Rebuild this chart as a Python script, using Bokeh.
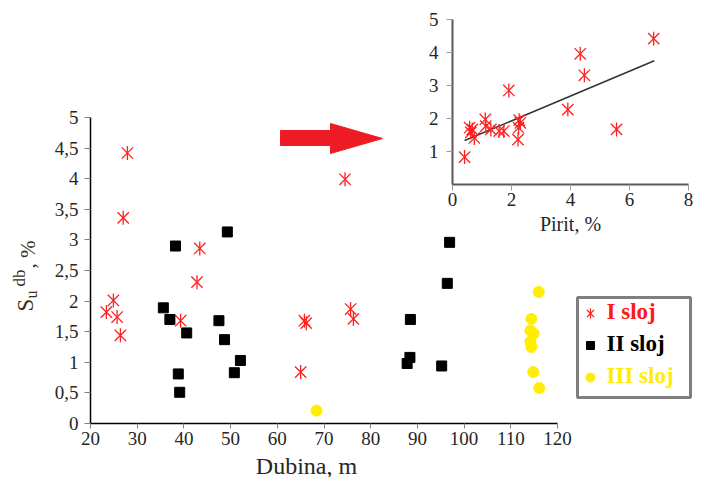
import math
from bokeh.plotting import figure
from bokeh.models import Range1d, LinearAxis, FixedTicker, CustomJSTickFormatter, Label
from bokeh.embed import file_html
from bokeh.resources import INLINE

# ---------------- data ----------------
# Main chart: depth (m) vs Su db (%)
s1_depth = [27.9, 27.0, 43.4, 42.8, 24.9, 23.4, 25.7, 26.4, 39.3, 74.5, 65.8, 66.2, 75.7, 76.3, 65.0]
s1_su    = [4.42, 3.36, 2.86, 2.31, 2.01, 1.82, 1.74, 1.44, 1.68, 3.99, 1.68, 1.64, 1.87, 1.71, 0.84]

s2_depth = [38.2, 49.3, 35.6, 37.0, 40.6, 47.5, 48.7, 52.1, 50.8, 38.8, 39.1, 96.9, 96.4, 88.5, 88.4, 87.8, 95.2]
s2_su    = [2.90, 3.13, 1.89, 1.70, 1.48, 1.68, 1.37, 1.03, 0.83, 0.81, 0.51, 2.96, 2.29, 1.70, 1.08, 0.98, 0.94]

s3_depth = [68.4, 116.0, 114.4, 114.2, 114.9, 114.2, 114.4, 114.8, 116.1]
s3_su    = [0.21, 2.15, 1.71, 1.52, 1.47, 1.34, 1.25, 0.84, 0.58]

x_ticks = [20, 30, 40, 50, 60, 70, 80, 90, 100, 110, 120]
y_ticks = [0, 0.5, 1, 1.5, 2, 2.5, 3, 3.5, 4, 4.5, 5]

# Inset: pyrite (%) vs Su db (%) for layer I
in_pirit = [0.41, 0.58, 0.62, 0.67, 0.74, 1.11, 1.13, 1.30, 1.58, 1.74, 1.91, 2.22, 2.24, 2.26, 2.30, 3.91, 4.33, 4.47, 5.56, 6.82]
in_su    = [0.83, 1.72, 1.58, 1.67, 1.41, 1.97, 1.77, 1.67, 1.62, 1.62, 2.85, 1.36, 1.72, 1.95, 1.87, 2.27, 3.96, 3.31, 1.67, 4.42]
trend_x = [0.41, 6.84]
trend_y = [1.33, 3.75]
in_x_ticks = [0, 2, 4, 6, 8]
in_y_ticks = [1, 2, 3, 4, 5]

leg_labels = ["I sloj", "II sloj", "III sloj"]
leg_colors = ["#ff1a1a", "#000000", "#ffee00"]

RED = "#ff2020"
BLACK = "#000000"
YELLOW = "#ffee00"
FONT = "Liberation Serif"
W, H = 693, 477

# ---------------- figure (frame covers the whole canvas) ----------------
p = figure(width=W, height=H, output_backend="svg", toolbar_location=None,
           x_axis_type=None, y_axis_type=None,
           x_range=Range1d(20 - 90 / 4.67, 20 + (W - 90) / 4.67),
           y_range=Range1d((423 - H) / 61.2, 423 / 61.2),
           min_border=0, min_border_left=0, min_border_right=0, min_border_top=0, min_border_bottom=0)
p.outline_line_color = None
p.grid.visible = False
p.background_fill_color = "white"

# pixel-like helper ranges (for decorations) and inset ranges
p.extra_x_ranges = {"inx": Range1d(-452 / 29.5, (W - 452) / 29.5), "px": Range1d(0, W)}
p.extra_y_ranges = {"iny": Range1d((184 - H) / 33.0, 184 / 33.0), "py": Range1d(H, 0)}

def style_axis(ax, line_color, line_width, tick_out):
    ax.axis_line_color = line_color
    ax.axis_line_width = line_width
    ax.major_tick_out = tick_out
    ax.major_tick_in = 0
    ax.minor_tick_line_color = None
    ax.major_label_text_font = FONT
    ax.major_label_text_font_size = "19px"
    ax.major_label_text_color = "#262626"

# main axes
xa = LinearAxis(fixed_location=0, bounds=(20, 120), ticker=FixedTicker(ticks=x_ticks))
style_axis(xa, "black", 1.5, 5)
xa.major_tick_line_color = "#808080"
xa.major_label_standoff = 3
ya = LinearAxis(fixed_location=20, bounds=(0, 5), ticker=FixedTicker(ticks=y_ticks),
                formatter=CustomJSTickFormatter(code="return String(tick).replace('.', ',');"))
style_axis(ya, "black", 1.5, 6)
ya.major_tick_line_color = "#808080"
ya.major_label_standoff = 6
p.add_layout(xa, "below")
p.add_layout(ya, "left")

# inset axes
ix = LinearAxis(x_range_name="inx", y_range_name="iny", fixed_location=0, bounds=(0, 8),
                ticker=FixedTicker(ticks=in_x_ticks), axis_label="Pirit, %")
iy = LinearAxis(x_range_name="inx", y_range_name="iny", fixed_location=0, bounds=(0, 5),
                ticker=FixedTicker(ticks=in_y_ticks))
for ax in (ix, iy):
    style_axis(ax, "#595959", 2, 6)
    ax.major_tick_line_color = "#9a9a9a"
ix.major_label_standoff = 2
ix.axis_label_text_font = FONT
ix.axis_label_text_font_size = "20px"
ix.axis_label_text_font_style = "normal"
ix.axis_label_text_color = "#262626"
ix.axis_label_standoff = 4
iy.major_label_standoff = 8
p.add_layout(ix, "below")
p.add_layout(iy, "left")

# ---------------- main series ----------------
def star(x, y, size, **kw):
    p.scatter(x, y, marker="x", size=size + 3, line_color=RED, line_width=1.3, **kw)
    p.scatter(x, y, marker="dash", angle=math.pi / 2, size=size + 1, line_color=RED, line_width=1.3, **kw)

star(s1_depth, s1_su, 13)
p.scatter(s2_depth, s2_su, marker="square", size=10, fill_color=BLACK, line_color=BLACK)
p.scatter(s3_depth, s3_su, marker="circle", size=11, fill_color=YELLOW, line_color=YELLOW)

# ---------------- inset series ----------------
p.line(trend_x, trend_y, x_range_name="inx", y_range_name="iny", line_color="#333333", line_width=1.6)
star(in_pirit, in_su, 13, x_range_name="inx", y_range_name="iny")

# ---------------- arrow ----------------
p.patch([280, 330, 330, 382, 330, 330, 280], [130, 130, 123, 138, 153, 145, 145],
        x_range_name="px", y_range_name="py", fill_color="#ed1c24", line_color="#ed1c24")

# ---------------- legend ----------------
p.quad(left=[577], right=[690], top=[297], bottom=[397], x_range_name="px", y_range_name="py",
       fill_color=None, line_color="#7f7f7f", line_width=3)
leg_y = [313, 345, 377]
p.scatter([590], [leg_y[0]], marker="x", size=10, line_color=RED, line_width=1.2, x_range_name="px", y_range_name="py")
p.scatter([590], [leg_y[0]], marker="dash", angle=math.pi / 2, size=10, line_color=RED, line_width=1.2,
          x_range_name="px", y_range_name="py")
p.scatter([590], [leg_y[1]], marker="square", size=8, fill_color=BLACK, line_color=BLACK, x_range_name="px", y_range_name="py")
p.scatter([590], [leg_y[2]], marker="circle", size=9, fill_color=YELLOW, line_color=YELLOW, x_range_name="px", y_range_name="py")
for lab, col, yy in zip(leg_labels, leg_colors, leg_y):
    p.add_layout(Label(x=606, y=yy - 2, text=lab, x_range_name="px", y_range_name="py",
                       text_font=FONT, text_font_size="23px", text_font_style="bold",
                       text_color=col, text_baseline="middle", text_align="left"))

# ---------------- axis titles ----------------
p.add_layout(Label(x=306, y=465, text="Dubina, m", x_range_name="px", y_range_name="py",
                   text_font=FONT, text_font_size="24px", text_color="#262626",
                   text_align="center", text_baseline="alphabetic"))
ylab_color = "#3d3020"
p.add_layout(Label(x=25, y=311, text="S", angle=math.pi / 2, x_range_name="px", y_range_name="py",
                   text_font=FONT, text_font_size="23px", text_color=ylab_color,
                   text_align="left", text_baseline="alphabetic"))
p.add_layout(Label(x=31, y=298, text="u", angle=math.pi / 2, x_range_name="px", y_range_name="py",
                   text_font=FONT, text_font_size="16px", text_color=ylab_color,
                   text_align="left", text_baseline="alphabetic"))
p.add_layout(Label(x=19, y=286, text="db", angle=math.pi / 2, x_range_name="px", y_range_name="py",
                   text_font=FONT, text_font_size="17px", text_color=ylab_color,
                   text_align="left", text_baseline="alphabetic"))
p.add_layout(Label(x=27, y=268, text=", %", angle=math.pi / 2, x_range_name="px", y_range_name="py",
                   text_font=FONT, text_font_size="21px", text_color=ylab_color,
                   text_align="left", text_baseline="alphabetic"))

open("out.html", "w").write(file_html(p, INLINE))
